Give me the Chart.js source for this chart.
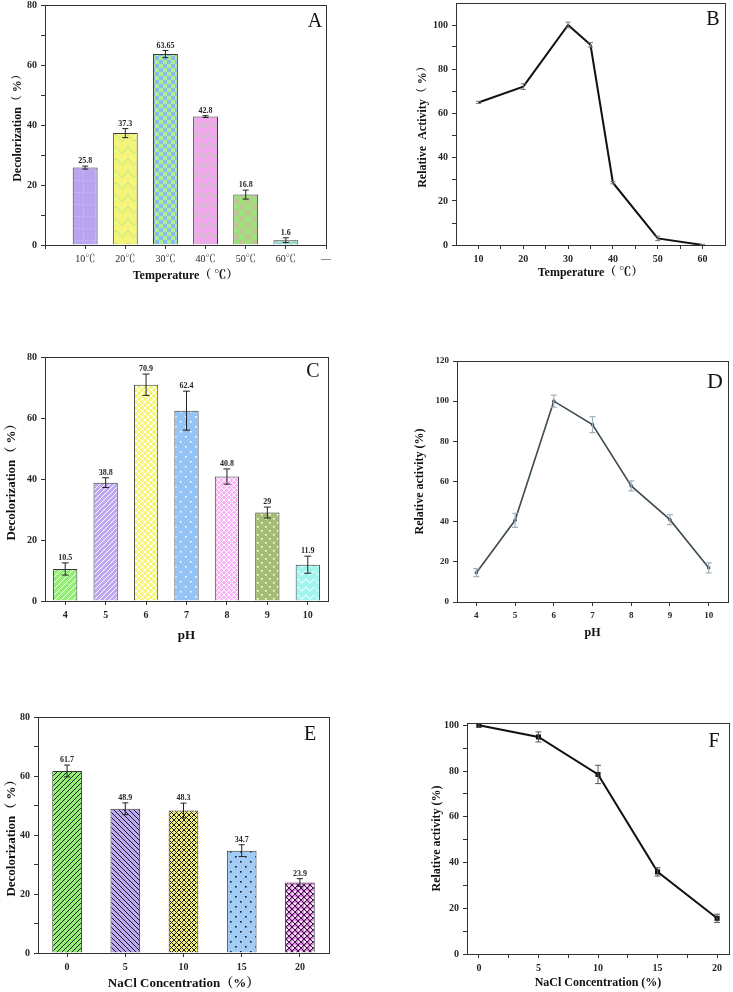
<!DOCTYPE html>
<html><head><meta charset="utf-8">
<script src="https://cdn.jsdelivr.net/npm/chart.js@4.4.1/dist/chart.umd.min.js"></script>
<style>
html,body{margin:0;padding:0;background:#fff;width:733px;height:992px;overflow:hidden;position:relative}
canvas{position:absolute}
</style></head><body>
<script>
// ---------- data ----------
const tempCats = ['10℃','20℃','30℃','40℃','50℃','60℃'];
const tempAxisExtra = '—';
const decolTemp = [25.8, 37.3, 63.65, 42.8, 16.8, 1.6];
const decolTempErr = [0.5, 1.5, 1.2, 0.3, 1.5, 0.8];

const actTempX = [10, 20, 30, 35, 40, 50, 60];
const actTemp = [64.8, 72, 100, 91, 28.3, 3, 0];
const actTempErr = [0.5, 1.3, 1.3, 1, 0.5, 1, 0.3];

const phCats = ['4','5','6','7','8','9','10'];
const decolPh = [10.5, 38.8, 70.9, 62.4, 40.8, 29, 11.9];
const decolPhErr = [2, 1.6, 3.5, 6.4, 2.5, 1.8, 2.8];

const actPhX = [4, 5, 6, 7, 8, 9, 10];
const actPh = [14.6, 40.7, 100, 88.3, 57.8, 41, 17];
const actPhErr = [2, 3.5, 3, 4, 2.5, 2.5, 2.5];

const naclCats = ['0','5','10','15','20'];
const decolNacl = [61.7, 48.9, 48.3, 34.7, 23.9];
const decolNaclErr = [2, 2, 2.5, 2, 1.3];

const actNaclX = [0, 5, 10, 15, 20];
const actNacl = [100, 94.9, 78.5, 35.9, 15.6];
const actNaclErr = [0.8, 2.2, 4, 1.8, 1.8];

// ---------- styling helpers ----------
const SERIF = "'Liberation Serif','Noto Serif CJK SC','Noto Sans CJK SC',serif";
const INK = '#262626';

function pat(bg, fg, kind, s, lw) {
  const c = document.createElement('canvas'); c.width = s; c.height = s;
  const g = c.getContext('2d');
  g.fillStyle = bg; g.fillRect(0, 0, s, s);
  g.strokeStyle = fg; g.fillStyle = fg; g.lineWidth = lw || 1;
  const diagR = () => { g.beginPath(); g.moveTo(-1, s + 1); g.lineTo(s + 1, -1); g.moveTo(-2, 2); g.lineTo(2, -2); g.moveTo(s - 2, s + 2); g.lineTo(s + 2, s - 2); g.stroke(); };
  const diagL = () => { g.beginPath(); g.moveTo(-1, -1); g.lineTo(s + 1, s + 1); g.moveTo(s - 2, -2); g.lineTo(s + 2, 2); g.moveTo(-2, s - 2); g.lineTo(2, s + 2); g.stroke(); };
  if (kind === 'diagR') diagR();
  else if (kind === 'diagL') diagL();
  else if (kind === 'cross') { diagR(); diagL(); }
  else if (kind === 'dots') { g.fillRect(1, 1, 1.6, 1.6); g.fillRect(s / 2 + 1, s / 2 + 1, 1.6, 1.6); }
  else if (kind === 'crossdots') { diagR(); diagL(); g.fillStyle = '#ffffff'; g.fillRect(s / 2 - 1, 0, 2, 1.5); g.fillRect(0, s / 2 - 1, 1.5, 2); }
  else if (kind === 'dotgrid') { for (let i = 0; i < s; i += 2) { g.fillRect(i, 0, 1, 1); g.fillRect(0, i, 1, 1); } }
  else if (kind === 'wave') { g.beginPath(); for (let x = 0; x <= s; x++) { const y = s / 2 + Math.sin(x / s * 2 * Math.PI) * s / 4; x ? g.lineTo(x, y) : g.moveTo(x, y); } g.stroke(); }
  else if (kind === 'squares') { g.fillRect(0, 0, s / 2, s / 2); g.fillRect(s / 2, s / 2, s / 2, s / 2); }
  return g.createPattern(c, 'repeat');
}

// ---------- plugins ----------
const errPlugin = {
  id: 'errbars',
  afterDatasetsDraw(chart, args, o) {
    if (!o || !o.show) return;
    const ctx = chart.ctx, ys = chart.scales.y;
    chart.data.datasets.forEach((ds, di) => {
      if (!ds.errors) return;
      chart.getDatasetMeta(di).data.forEach((el, i) => {
        const d = ds.data[i]; const v = (d && typeof d === 'object') ? d.y : d;
        const e = ds.errors[i]; if (v == null || e == null) return;
        const x = el.x, y1 = ys.getPixelForValue(v + e), y2 = ys.getPixelForValue(v - e), h = o.cap / 2;
        ctx.save(); ctx.strokeStyle = o.color; ctx.lineWidth = o.width;
        ctx.beginPath();
        ctx.moveTo(x, y1); ctx.lineTo(x, y2);
        ctx.moveTo(x - h, y1); ctx.lineTo(x + h, y1);
        ctx.moveTo(x - h, y2); ctx.lineTo(x + h, y2);
        ctx.stroke(); ctx.restore();
      });
    });
  }
};
const labelPlugin = {
  id: 'barlabels',
  afterDatasetsDraw(chart, args, o) {
    if (!o || !o.show) return;
    const ctx = chart.ctx, ys = chart.scales.y, ds = chart.data.datasets[0];
    chart.getDatasetMeta(0).data.forEach((el, i) => {
      const d = ds.data[i]; const v = (d && typeof d === 'object') ? d.y : d;
      const e = ds.errors ? ds.errors[i] : 0;
      ctx.save(); ctx.fillStyle = INK; ctx.font = o.font; ctx.textAlign = 'center'; ctx.textBaseline = 'bottom';
      ctx.fillText(String(v), el.x, ys.getPixelForValue(v + e) - 1);
      ctx.restore();
    });
  }
};
const framePlugin = {
  id: 'frame',
  afterDraw(chart, args, o) {
    const a = chart.chartArea, ctx = chart.ctx;
    ctx.save(); ctx.strokeStyle = '#333'; ctx.lineWidth = 1;
    ctx.strokeRect(Math.round(a.left) + 0.5, Math.round(a.top) + 0.5, Math.round(a.right - a.left), Math.round(a.bottom - a.top));
    if (o && o.letter) {
      ctx.fillStyle = '#111'; ctx.font = (o.size || 20) + 'px ' + SERIF; ctx.textAlign = 'center'; ctx.textBaseline = 'middle';
      ctx.fillText(o.letter, a.right + o.dx, a.top + o.dy);
    }
    ctx.restore();
  }
};
Chart.register(errPlugin, labelPlugin, framePlugin);

// ---------- layout helper ----------
function mount(spec, cfg) {
  const lh = spec.titleSize * 1.2;
  const cl = Math.round(spec.yTitleX - lh / 2), yW = spec.l - cl;
  const ct = Math.max(0, spec.t - 12), padTop = spec.t - ct;
  const cr = Math.min(733, spec.r + 10), padRight = cr - spec.r;
  const cb = Math.min(992, Math.round(spec.xTitleY + lh / 2)), xH = cb - spec.b;
  const c = document.createElement('canvas');
  c.width = cr - cl; c.height = cb - ct;
  c.style.left = cl + 'px'; c.style.top = ct + 'px';
  c.style.width = (cr - cl) + 'px'; c.style.height = (cb - ct) + 'px';
  document.body.appendChild(c);
  const o = cfg.options;
  o.responsive = false; o.animation = false; o.devicePixelRatio = 1;
  o.layout = { padding: { top: padTop, right: padRight, left: 0, bottom: 0 } };
  o.scales.x.afterFit = s => { s.height = xH; s.paddingLeft = 0; s.paddingRight = 0; };
  o.scales.y.afterFit = s => { s.width = yW; s.paddingTop = 0; s.paddingBottom = 0; };
  o.plugins = Object.assign({ legend: { display: false }, tooltip: { enabled: false } }, o.plugins);
  new Chart(c, cfg);
}
function axis(extra) {
  return Object.assign({
    grid: { display: true, drawOnChartArea: false, drawTicks: true, tickLength: 4, color: '#333', offset: false },
    border: { display: true, color: '#333', width: 1 },
  }, extra);
}
// fixed tick positions for a linear axis: every `step` from `from` to `to`
const tickSet = (from, to, step) => s => {
  const t = [];
  for (let v = from; v <= to + 1e-9; v += step) t.push({ value: Math.round(v * 1000) / 1000 });
  s.ticks = t;
};
const tickFont = (sz, bold) => ({ family: SERIF, size: sz, weight: bold ? 'bold' : 'normal' });
const titleCfg = (text, sz) => ({ display: true, text, color: '#111', padding: 0, font: { family: SERIF, size: sz, weight: 'bold' } });
const every = (n) => (v) => (Math.abs(v / n - Math.round(v / n)) < 1e-6 ? String(v) : '');

// ---------- Panel A ----------
const tempAxisLabels = [''].concat(tempCats, [tempAxisExtra]);
mount({ l: 45, r: 326, t: 5, b: 245, yTitleX: 18, xTitleY: 276, titleSize: 12 }, {
  type: 'bar',
  data: { datasets: [{
    data: decolTemp.map((v, i) => ({ x: i + 1, y: v })),
    errors: decolTempErr,
    backgroundColor: [
      pat('#b9a4ee', '#9fe6a0', 'dotgrid', 12),
      pat('#f4f37a', '#b9e88e', 'wave', 12),
      pat('#a9f08e', '#8fb8ee', 'squares', 8),
      pat('#f2a6ee', '#a8e49a', 'wave', 10),
      pat('#9de27a', '#b9c98f', 'squares', 12),
      pat('#a8f0b4', '#8fc8ee', 'squares', 6)
    ],
    borderColor: '#3a3a3a', borderWidth: 1, barPercentage: 0.62, categoryPercentage: 1
  }] },
  options: {
    scales: {
      x: axis({ type: 'linear', min: 0, max: 7, offset: false,
        afterBuildTicks: tickSet(0, 7, 1),
        ticks: { autoSkip: false, maxRotation: 0, color: INK, font: tickFont(10, false), padding: 4,
                 callback: v => tempAxisLabels[v] ?? '' },
        title: titleCfg('Temperature（ ℃）', 12) }),
      y: axis({ min: 0, max: 80,
        afterBuildTicks: tickSet(0, 80, 10),
        ticks: { color: INK, font: tickFont(10, true), padding: 4, callback: every(20) },
        title: titleCfg('Decolorization（ %）', 12) })
    },
    plugins: {
      errbars: { show: true, color: '#222', width: 1, cap: 6 },
      barlabels: { show: true, font: 'bold 8px ' + SERIF },
      frame: { letter: 'A', dx: -11, dy: 17, size: 20 }
    }
  }
});

// ---------- Panel B ----------
mount({ l: 456, r: 725, t: 3, b: 245, yTitleX: 423, xTitleY: 273, titleSize: 12 }, {
  type: 'line',
  data: { datasets: [{
    data: actTempX.map((x, i) => ({ x, y: actTemp[i] })),
    errors: actTempErr,
    borderColor: '#111', borderWidth: 2, pointRadius: 0, tension: 0, fill: false
  }] },
  options: {
    scales: {
      x: axis({ type: 'linear', min: 5, max: 65,
        afterBuildTicks: tickSet(10, 60, 5),
        ticks: { autoSkip: false, maxRotation: 0, color: INK, font: tickFont(10, true), padding: 4, callback: every(10) },
        title: titleCfg('Temperature（ ℃）', 12) }),
      y: axis({ type: 'linear', min: 0, max: 110,
        afterBuildTicks: tickSet(0, 100, 10),
        ticks: { color: INK, font: tickFont(10, true), padding: 4, callback: every(20) },
        title: titleCfg('Relative  Activity（ %）', 12) })
    },
    plugins: {
      errbars: { show: true, color: '#777', width: 1, cap: 5 },
      frame: { letter: 'B', dx: -12, dy: 17, size: 20 }
    }
  }
});

// ---------- Panel C ----------
mount({ l: 45, r: 328, t: 357, b: 601, yTitleX: 12, xTitleY: 635, titleSize: 13 }, {
  type: 'bar',
  data: { labels: phCats, datasets: [{
    data: decolPh, errors: decolPhErr,
    backgroundColor: [
      pat('#93ef74', '#ffffff', 'diagR', 6),
      pat('#bda8f2', '#ffffff', 'diagR', 5),
      pat('#f6f37a', '#ffffff', 'cross', 6),
      pat('#93c4f5', '#ffffff', 'dots', 10),
      pat('#f6b2f2', '#ffffff', 'cross', 5),
      pat('#a3bd73', '#ffffff', 'dots', 8),
      pat('#a0f5ee', '#ffffff', 'wave', 8)
    ],
    borderColor: '#3a3a3a', borderWidth: 1, barPercentage: 0.6, categoryPercentage: 1
  }] },
  options: {
    scales: {
      x: axis({ type: 'category', offset: true,
        ticks: { autoSkip: false, maxRotation: 0, color: INK, font: tickFont(10, true), padding: 4 },
        title: titleCfg('pH', 13) }),
      y: axis({ min: 0, max: 80,
        afterBuildTicks: tickSet(0, 80, 20),
        ticks: { color: INK, font: tickFont(10, true), padding: 4 },
        title: titleCfg('Decolorization（ %）', 13) })
    },
    plugins: {
      errbars: { show: true, color: '#222', width: 1, cap: 7 },
      barlabels: { show: true, font: 'bold 8px ' + SERIF },
      frame: { letter: 'C', dx: -15, dy: 15, size: 20 }
    }
  }
});

// ---------- Panel D ----------
mount({ l: 457, r: 728, t: 361, b: 602, yTitleX: 420, xTitleY: 633, titleSize: 12 }, {
  type: 'line',
  data: { datasets: [{
    data: actPhX.map((x, i) => ({ x, y: actPh[i] })),
    errors: actPhErr,
    borderColor: '#3d4b52', borderWidth: 1.6, pointRadius: 1.8, pointBackgroundColor: '#3d4b52',
    pointBorderWidth: 0, tension: 0, fill: false
  }] },
  options: {
    scales: {
      x: axis({ type: 'linear', min: 3.5, max: 10.5,
        afterBuildTicks: tickSet(4, 10, 1),
        ticks: { autoSkip: false, maxRotation: 0, color: INK, font: tickFont(9, true), padding: 4 },
        title: titleCfg('pH', 12) }),
      y: axis({ type: 'linear', min: 0, max: 120,
        afterBuildTicks: tickSet(0, 120, 20),
        ticks: { color: INK, font: tickFont(9, true), padding: 4 },
        title: titleCfg('Relative activity (%)', 12) })
    },
    plugins: {
      errbars: { show: true, color: '#a3b2ba', width: 1.2, cap: 6 },
      frame: { letter: 'D', dx: -13, dy: 21, size: 22 }
    }
  }
});

// ---------- Panel E ----------
mount({ l: 38, r: 329, t: 717, b: 953, yTitleX: 12, xTitleY: 983, titleSize: 13 }, {
  type: 'bar',
  data: { labels: naclCats, datasets: [{
    data: decolNacl, errors: decolNaclErr,
    backgroundColor: [
      pat('#93ef74', '#1a1a1a', 'diagR', 5),
      pat('#bda8f2', '#1a1a1a', 'diagL', 5),
      pat('#f6f37a', '#1a1a1a', 'cross', 5),
      pat('#a2cbf6', '#1a1a1a', 'dots', 10),
      pat('#e38ae8', '#3a1a3a', 'crossdots', 6)
    ],
    borderColor: '#3a3a3a', borderWidth: 1, barPercentage: 0.51, categoryPercentage: 1
  }] },
  options: {
    scales: {
      x: axis({ type: 'category', offset: true,
        ticks: { autoSkip: false, maxRotation: 0, color: INK, font: tickFont(10, true), padding: 4 },
        title: titleCfg('NaCl Concentration（%）', 13) }),
      y: axis({ min: 0, max: 80,
        afterBuildTicks: tickSet(0, 80, 10),
        ticks: { color: INK, font: tickFont(10, true), padding: 4, callback: every(20) },
        title: titleCfg('Decolorization（ %）', 13) })
    },
    plugins: {
      errbars: { show: true, color: '#222', width: 1, cap: 6 },
      barlabels: { show: true, font: 'bold 8px ' + SERIF },
      frame: { letter: 'E', dx: -19, dy: 18, size: 20 }
    }
  }
});

// ---------- Panel F ----------
mount({ l: 467, r: 730, t: 723, b: 954, yTitleX: 437, xTitleY: 983, titleSize: 12 }, {
  type: 'line',
  data: { datasets: [{
    data: actNaclX.map((x, i) => ({ x, y: actNacl[i] })),
    errors: actNaclErr,
    borderColor: '#111', borderWidth: 2, pointStyle: 'rect', pointRadius: 3.6,
    pointBackgroundColor: '#111', pointBorderWidth: 0, tension: 0, fill: false
  }] },
  options: {
    scales: {
      x: axis({ type: 'linear', min: -1, max: 21,
        afterBuildTicks: tickSet(0, 20, 2.5),
        ticks: { autoSkip: false, maxRotation: 0, color: INK, font: tickFont(10, true), padding: 4, callback: every(5) },
        title: titleCfg('NaCl Concentration (%)', 12) }),
      y: axis({ type: 'linear', min: 0, max: 101,
        afterBuildTicks: tickSet(0, 100, 10),
        ticks: { color: INK, font: tickFont(10, true), padding: 4, callback: every(20) },
        title: titleCfg('Relative activity (%)', 12) })
    },
    plugins: {
      errbars: { show: true, color: '#555', width: 1, cap: 6 },
      frame: { letter: 'F', dx: -15, dy: 19, size: 20 }
    }
  }
});
</script>
</body></html>
